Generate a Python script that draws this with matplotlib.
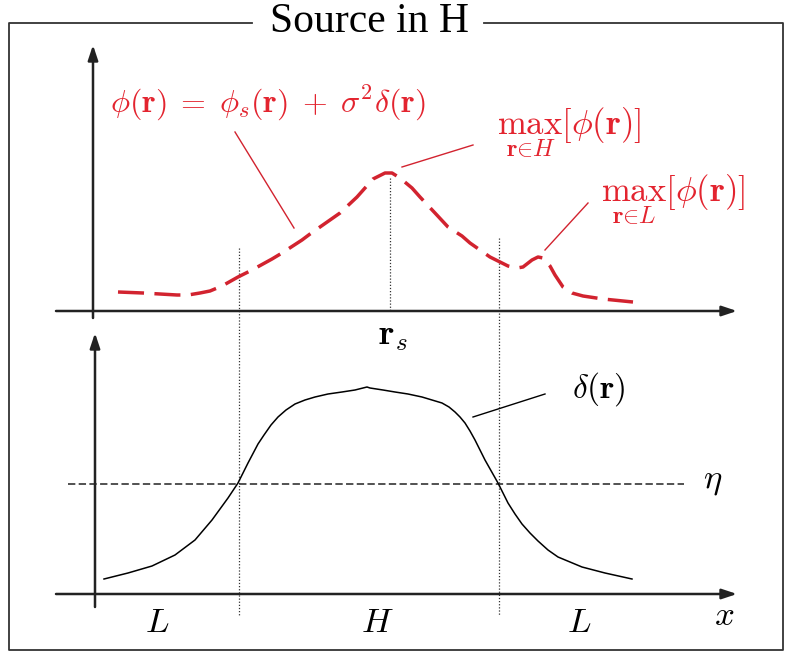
import numpy as np
import matplotlib.pyplot as plt

plt.rcParams['mathtext.fontset'] = 'cm'

# phi(r) curve (upper panel), pixel coordinates
phi_x = [118, 143, 177, 188, 200, 210, 222, 238, 252, 272, 282, 302,
         310, 330, 340, 357, 365, 373, 383, 385, 392, 400, 412, 420,
         435, 448, 462, 470, 490, 500, 508, 517, 523, 532, 538, 543,
         550, 555, 563, 572, 583, 603, 633]
phi_y = [292, 293, 295, 295, 293, 291, 286, 277, 270, 259, 253, 240,
         234, 220, 213, 197, 188, 179, 174, 173, 173, 178, 188, 197,
         213, 227, 236, 243, 257, 262, 266, 268, 267, 260, 257, 258,
         266, 275, 287, 293, 296, 299, 302]

# delta(r) curve (lower panel)
delta_x = [104, 128, 152, 175, 195, 212, 228, 238, 248, 258, 264, 271,
           278, 286, 295, 305, 315, 328, 342, 355, 367, 370, 383, 395,
           408, 422, 432, 442, 449, 455, 460, 465, 470, 475, 485, 498,
           508, 515, 522, 530, 538, 548, 558, 570, 582, 605, 632]
delta_y = [579, 573, 566, 555, 540, 520, 498, 483, 463, 444, 435, 425,
           417, 410, 404, 400, 397, 394, 392, 390, 387, 388, 390, 392,
           394, 397, 400, 403, 407, 412, 417, 423, 431, 440, 460, 483,
           503, 514, 524, 533, 541, 550, 557, 562, 567, 573, 579]

# region boundaries and threshold
bound_x = [239, 499]
peak_x = 390
eta_y = 484
region_labels = ['L', 'H', 'L']
region_x = [157, 377, 579]

red = '#d2232f'
red_txt = '#e3242f'

fig = plt.figure(figsize=(7.9, 6.57), dpi=100)
ax = fig.add_axes([0, 0, 1, 1])
ax.set_xlim(0, 790)
ax.set_ylim(657, 0)
ax.axis('off')

# frame with title
ax.plot([252, 9, 9, 783, 783, 484], [23, 23, 650, 650, 23, 23], color='#333333', lw=1.3)
ax.text(369, 22, 'Source in H', family='Liberation Serif', fontsize=30,
        ha='center', va='center')

def arrow(x0, y0, x1, y1):
    ax.annotate('', xy=(x1, y1), xytext=(x0, y0),
                arrowprops=dict(arrowstyle='-|>,head_length=0.9,head_width=0.3',
                                color='#222222', lw=1.8, shrinkA=0, shrinkB=0))

# axes
arrow(93, 318, 93, 45)
arrow(56, 311, 737, 311)
arrow(95, 607, 95, 333)
arrow(56, 594, 737, 594)

# dotted guides
for bx, top in zip(bound_x, [248, 238]):
    ax.plot([bx, bx], [top, 615], color='#333333', lw=0.9, ls=(0, (1, 1.5)))
ax.plot([peak_x, peak_x], [178, 311], color='#333333', lw=0.9, ls=(0, (1, 1.5)))

# threshold
ax.plot([68, 684], [eta_y, eta_y], color='#222222', lw=1.1, ls=(0, (4.8, 2.2)))
ax.text(713, eta_y - 4, r'$\eta$', fontsize=25, ha='center', va='center')

# curves
ax.plot(phi_x, phi_y, color=red, lw=2.5, ls=(0, (7.5, 3)))
ax.plot(delta_x, delta_y, color='black', lw=1.1)

# labels
ax.text(393, 336, r'$\mathbf{r}_s$', fontsize=26, ha='center', va='center')
for lab, lx in zip(region_labels, region_x):
    ax.text(lx, 622, '$' + lab + '$', fontsize=25, ha='center', va='center')
ax.text(724, 615, r'$x$', fontsize=25, ha='center', va='center')

ax.text(599, 389, r'$\delta(\mathbf{r})$', fontsize=24, ha='center', va='center')
ax.plot([473, 545], [417, 394], color='black', lw=1.0)

ax.text(268, 103, r'$\phi(\mathbf{r})\;=\;\phi_s(\mathbf{r})\;+\;\sigma^2\delta(\mathbf{r})$',
        fontsize=23, color=red_txt, ha='center', va='center')
ax.plot([235, 294], [132, 228], color=red, lw=1.0)

ax.text(497, 134, r'$\max_{\mathbf{r}\in H}[\phi(\mathbf{r})]$', fontsize=25,
        color=red_txt, ha='left', va='baseline')
ax.plot([402, 473], [167, 145], color=red, lw=1.0)

ax.text(601, 201, r'$\max_{\mathbf{r}\in L}[\phi(\mathbf{r})]$', fontsize=25,
        color=red_txt, ha='left', va='baseline')
ax.plot([545, 588], [250, 203], color=red, lw=1.0)

fig.savefig('out.png', dpi=100)
